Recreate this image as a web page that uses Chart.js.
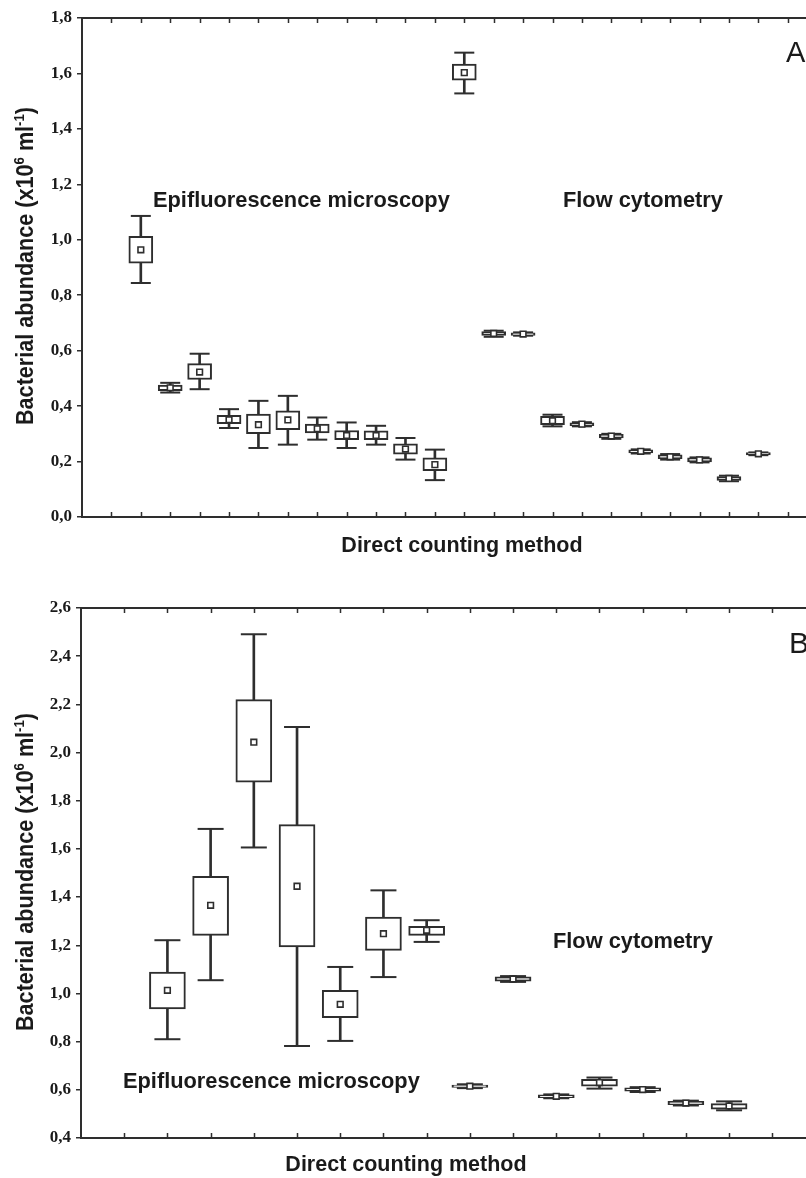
<!DOCTYPE html>
<html><head><meta charset="utf-8">
<script src="https://cdn.jsdelivr.net/npm/chart.js@4/dist/chart.umd.min.js"></script>
<style>
html,body{margin:0;padding:0;background:#fff;}
#wrap{position:relative;width:806px;height:1178px;overflow:hidden;background:#fff;}
.pan{position:absolute;left:0;width:806px;height:589px;}
canvas{display:block;}
</style></head>
<body><div id="wrap">
<div class="pan" style="top:0"><canvas id="cA" width="806" height="589"></canvas></div>
<div class="pan" style="top:589px"><canvas id="cB" width="806" height="589"></canvas></div>
</div>
<script>
// ---------- Panel A data ----------
const A_categories = [2,3,4,5,6,7,8,9,10,11,12,13,14,15,16,17,18,19,20,21,22,23];
const A_mean   = [0.964,0.466,0.523,0.351,0.333,0.350,0.318,0.294,0.294,0.245,0.189,1.603,0.662,0.660,0.347,0.335,0.292,0.237,0.217,0.206,0.139,0.228];
const A_boxLo  = [0.916,0.456,0.496,0.337,0.301,0.315,0.303,0.279,0.279,0.227,0.167,1.576,0.655,0.655,0.333,0.329,0.285,0.231,0.210,0.199,0.132,0.224];
const A_boxHi  = [1.012,0.476,0.553,0.367,0.371,0.383,0.335,0.312,0.311,0.264,0.213,1.634,0.669,0.664,0.363,0.340,0.298,0.242,0.224,0.213,0.146,0.232];
const A_whLo   = [0.844,0.449,0.461,0.321,0.249,0.261,0.279,0.249,0.261,0.207,0.133,1.528,0.650,0.654,0.327,0.327,0.282,0.229,0.207,0.197,0.129,0.223];
const A_whHi   = [1.086,0.484,0.589,0.389,0.419,0.437,0.359,0.341,0.329,0.285,0.243,1.675,0.672,0.666,0.369,0.342,0.300,0.244,0.227,0.215,0.149,0.233];
const A_xTicks = [1,2,3,4,5,6,7,8,9,10,11,12,13,14,15,16,17,18,19,20,21,22,23,24];
const A_yTicks = [0,0.2,0.4,0.6,0.8,1.0,1.2,1.4,1.6,1.8];

// ---------- Panel B data ----------
const B_categories = [2,3,4,5,6,7,8,9,10,11,12,13,14,15];
const B_mean   = [1.013,1.366,2.043,1.445,0.955,1.248,1.262,0.615,1.060,0.573,0.630,0.601,0.545,0.533];
const B_boxLo  = [0.936,1.241,1.877,1.193,0.900,1.179,1.241,0.610,1.051,0.567,0.615,0.594,0.538,0.520];
const B_boxHi  = [1.089,1.486,2.220,1.701,1.013,1.317,1.279,0.620,1.069,0.579,0.644,0.608,0.552,0.543];
const B_whLo   = [0.810,1.055,1.606,0.782,0.803,1.068,1.214,0.607,1.048,0.565,0.605,0.591,0.535,0.515];
const B_whHi   = [1.221,1.683,2.491,2.106,1.110,1.428,1.304,0.623,1.072,0.581,0.651,0.611,0.555,0.552];
const B_xTicks = [1,2,3,4,5,6,7,8,9,10,11,12,13,14,15,16];
const B_yTicks = [0.4,0.6,0.8,1.0,1.2,1.4,1.6,1.8,2.0,2.2,2.4,2.6];

// ---------- Text ----------
const yTitleMain = ['Bacterial abundance (x10', ' ml', ')'];
const yTitleSup = ['6', '-1'];
const xTitle = 'Direct counting method';
const labelEpi = 'Epifluorescence microscopy';
const labelFlow = 'Flow cytometry';

const INK = '#2e2e2e';
const TXT = '#1a1a1a';
const SANS = '"Liberation Sans", Arial, Helvetica, sans-serif';
const SERIF = '"Liberation Serif", "Times New Roman", serif';

function drawYTitle(ctx, baseX, cy, targetLen) {
  ctx.save();
  ctx.translate(baseX, cy);
  ctx.rotate(-Math.PI / 2);
  ctx.fillStyle = TXT;
  ctx.textBaseline = 'alphabetic';
  ctx.textAlign = 'left';
  const big = 'bold 23px ' + SANS;
  const small = 'bold 14px ' + SANS;
  const parts = [
    {t: yTitleMain[0], f: big, dy: 0},
    {t: yTitleSup[0], f: small, dy: -9},
    {t: yTitleMain[1], f: big, dy: 0},
    {t: yTitleSup[1], f: small, dy: -9},
    {t: yTitleMain[2], f: big, dy: 0}
  ];
  let w = 0;
  parts.forEach(p => { ctx.font = p.f; p.w = ctx.measureText(p.t).width; w += p.w; });
  ctx.scale(targetLen / w, 1);
  let x = -w / 2;
  parts.forEach(p => { ctx.font = p.f; ctx.fillText(p.t, x, p.dy); x += p.w; });
  ctx.restore();
}

function makePanel(canvasId, cfg) {
  const whiskerData = cfg.cats.map((c, i) => ({x: c, y: [cfg.whLo[i], cfg.whHi[i]]}));
  const boxData = cfg.cats.map((c, i) => ({x: c, y: [cfg.boxLo[i], cfg.boxHi[i]]}));
  const capData = [];
  cfg.cats.forEach((c, i) => { capData.push({x: c, y: cfg.whHi[i]}); capData.push({x: c, y: cfg.whLo[i]}); });
  const meanData = cfg.cats.map((c, i) => ({x: c, y: cfg.mean[i]}));

  const framePlugin = {
    id: 'frame_' + canvasId,
    afterDatasetsDraw(chart) {
      const {ctx, chartArea, scales} = chart;
      const xs = scales.x;
      ctx.save();
      ctx.strokeStyle = INK;
      ctx.lineWidth = 2;
      ctx.beginPath();
      ctx.moveTo(chartArea.left - 1, chartArea.top);
      ctx.lineTo(chartArea.right, chartArea.top);
      ctx.stroke();
      ctx.lineWidth = 1.5;
      cfg.xTicks.forEach(v => {
        const px = Math.round(xs.getPixelForValue(v)) + 0.5;
        ctx.beginPath();
        ctx.moveTo(px, chartArea.bottom);
        ctx.lineTo(px, chartArea.bottom - 5);
        ctx.moveTo(px, chartArea.top);
        ctx.lineTo(px, chartArea.top + 5);
        ctx.stroke();
      });
      ctx.restore();
    },
    afterDraw(chart) {
      const ctx = chart.ctx;
      ctx.save();
      ctx.fillStyle = TXT;
      ctx.textBaseline = 'alphabetic';
      cfg.texts.forEach(t => {
        ctx.font = t.font;
        ctx.textAlign = t.align;
        ctx.fillText(t.text, t.x, t.y);
      });
      ctx.restore();
      drawYTitle(ctx, cfg.yTitleX, cfg.yTitleY, cfg.yTitleLen);
    }
  };

  return new Chart(document.getElementById(canvasId), {
    type: 'scatter',
    data: {
      datasets: [
        {type: 'bar', data: whiskerData, grouped: false, barThickness: 2, maxBarThickness: 2,
         backgroundColor: INK, borderWidth: 0, order: 4},
        {type: 'scatter', data: capData, pointStyle: 'line', pointRadius: cfg.capR, pointHoverRadius: cfg.capR,
         borderColor: INK, pointBorderWidth: 2, borderWidth: 2, order: 3},
        {type: 'bar', data: boxData, grouped: false, barThickness: cfg.boxW, maxBarThickness: cfg.boxW,
         backgroundColor: '#ffffff', borderColor: INK, borderWidth: 2, borderSkipped: false, order: 2},
        {type: 'scatter', data: meanData, pointStyle: 'rect', pointRadius: 4, pointHoverRadius: 4,
         backgroundColor: '#ffffff', borderColor: INK, pointBorderWidth: 1.6, borderWidth: 1.6, order: 1}
      ]
    },
    options: {
      responsive: false,
      animation: false,
      events: [],
      layout: {autoPadding: false, padding: {top: cfg.padTop, right: 0, bottom: 0, left: 0}},
      plugins: {legend: {display: false}, tooltip: {enabled: false}, title: {display: false}},
      scales: {
        x: {
          type: 'linear', min: 0, max: cfg.xMax, offset: false,
          grid: {display: false, offset: false},
          border: {display: true, color: INK, width: 2},
          ticks: {display: false},
          afterFit(s) { s.height = cfg.xHeight; }
        },
        y: {
          type: 'linear', min: cfg.yMin, max: cfg.yMax,
          grid: {display: true, drawOnChartArea: false, drawTicks: true, tickLength: 5, color: INK, lineWidth: 1.5},
          border: {display: true, color: INK, width: 2},
          afterBuildTicks(s) { s.ticks = cfg.yTicks.map(v => ({value: v})); },
          ticks: {
            padding: 5, color: TXT,
            font: {family: SERIF, size: 17, weight: 'bold'},
            callback: v => v.toFixed(1).replace('.', ',')
          },
          afterFit(s) { s.width = cfg.yWidth; }
        }
      }
    },
    plugins: [framePlugin]
  });
}

makePanel('cA', {
  cats: A_categories, mean: A_mean, boxLo: A_boxLo, boxHi: A_boxHi, whLo: A_whLo, whHi: A_whHi,
  xTicks: A_xTicks, yTicks: A_yTicks, yMin: 0, yMax: 1.8, xMax: 24.62,
  padTop: 18, xHeight: 72, yWidth: 82, boxW: 24, capR: 10,
  yTitleX: 33, yTitleY: 266, yTitleLen: 318,
  texts: [
    {text: labelEpi, x: 153, y: 207, font: 'bold 21.8px ' + SANS, align: 'left'},
    {text: labelFlow, x: 563, y: 207, font: 'bold 21.8px ' + SANS, align: 'left'},
    {text: 'A', x: 786, y: 62, font: '29px ' + SANS, align: 'left'},
    {text: xTitle, x: 462, y: 552, font: 'bold 21.5px ' + SANS, align: 'center'}
  ]
});

makePanel('cB', {
  cats: B_categories, mean: B_mean, boxLo: B_boxLo, boxHi: B_boxHi, whLo: B_whLo, whHi: B_whHi,
  xTicks: B_xTicks, yTicks: B_yTicks, yMin: 0.4, yMax: 2.6, xMax: 16.78,
  padTop: 19, xHeight: 40, yWidth: 81, boxW: 36, capR: 13,
  yTitleX: 33, yTitleY: 872 - 589, yTitleLen: 318,
  texts: [
    {text: labelFlow, x: 553, y: 948 - 589, font: 'bold 21.8px ' + SANS, align: 'left'},
    {text: labelEpi, x: 123, y: 1088 - 589, font: 'bold 21.8px ' + SANS, align: 'left'},
    {text: 'B', x: 789, y: 653 - 589, font: '30px ' + SANS, align: 'left'},
    {text: xTitle, x: 406, y: 1171 - 589, font: 'bold 21.5px ' + SANS, align: 'center'}
  ]
});
</script>
</body></html>
